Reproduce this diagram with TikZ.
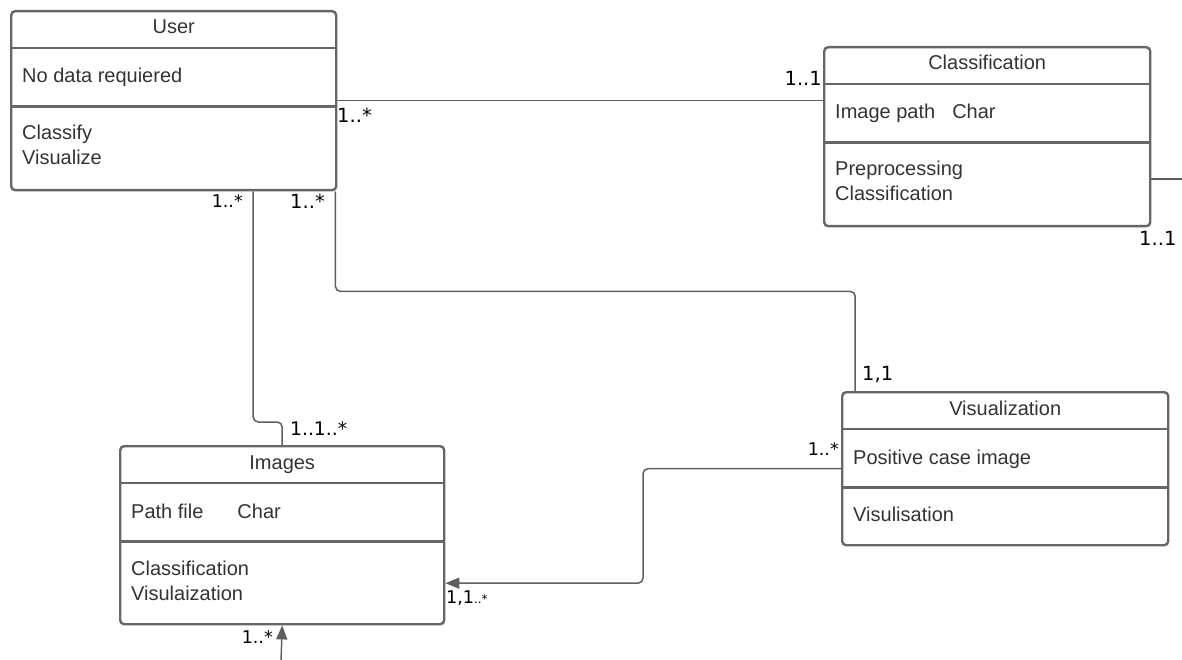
\documentclass[tikz,border=0pt]{standalone}
\usepackage{fontspec}
\setmainfont{Liberation Sans}
\newfontfamily\labelfont{DejaVu Sans}
\usetikzlibrary{arrows.meta,calc}
\definecolor{boxline}{HTML}{666666}
\definecolor{wire}{HTML}{5F5F5F}
\definecolor{boxtext}{HTML}{333333}

\tikzset{
  classbox/.style={draw=boxline, line width=2.4pt, rounded corners=4pt, inner sep=0pt, anchor=north west},
  sepline/.style={draw=boxline, line width=2.4pt},
  boxtxt/.style={text=boxtext, inner sep=0pt, font=\fontsize{20}{24}\selectfont},
  wireline/.style={draw=wire, line width=1.5pt, rounded corners=5pt},
  mult/.style={inner sep=0pt, font=\labelfont\fontsize{19.5}{23}\selectfont},
  multsmall/.style={inner sep=0pt, font=\labelfont\fontsize{17.5}{21}\selectfont},
  navarrow/.style={-{Triangle[length=14pt,width=11pt]}},
}

% class box: name, left, top, width, height, title, attribute, operation 1, operation 2
\newcommand\umlclass[9]{%
  \node[classbox, minimum width=#4pt, minimum height=#5pt] (#1) at (#2,#3) {};
  \draw[sepline] ([yshift=-38pt]#1.north west) -- ([yshift=-38pt]#1.north east);
  \draw[sepline] ([yshift=-96.5pt]#1.north west) -- ([yshift=-96.5pt]#1.north east);
  \node[boxtxt, anchor=base] (#1-name) at ([yshift=-24pt]#1.north) {#6};
  \node[boxtxt, anchor=base west] (#1-attr) at ([xshift=12pt,yshift=-73pt]#1.north west) {#7};
  \node[boxtxt, anchor=base west] (#1-op1) at ([xshift=12pt,yshift=-130pt]#1.north west) {#8};
  \node[boxtxt, anchor=base west] (#1-op2) at ([xshift=12pt,yshift=-155pt]#1.north west) {#9};
}

\begin{document}
\begin{tikzpicture}[x=1pt, y=-1pt]
\useasboundingbox (0,0) rectangle (1182,660);

% classes
\umlclass{user}{10}{10}{325}{179}{User}{No data requiered}{Classify}{Visualize}
\umlclass{class}{823}{46}{326}{179}{Classification}{Image path\hspace{17pt}Char}{Preprocessing}{Classification}
\umlclass{vis}{841}{391}{326}{153}{Visualization}{Positive case image}{Visulisation}{}
\umlclass{images}{119}{445}{324}{178}{Images}{Path file\hspace{34pt}Char}{Classification}{Visulaization}

% free ends of connectors leaving the sheet
\coordinate (cstart) at ([yshift=-42.5pt]class.east);
\coordinate (cstub) at (1183,0);
\coordinate (imgin) at (281,662);

% associations
\draw[wireline] (user.east) -- (user.east -| class.west);
\draw[wireline] (cstart) -- (cstart -| cstub);
\draw[wireline] ([xshift=79.5pt]user.south) |- ($(images.north)+(0,-23)$) -- (images.north);
\draw[wireline] ([xshift=-2pt]user.south east) -- ++(0,100) -| ([xshift=-150pt]vis.north);
\draw[wireline, navarrow] (vis.west) -- ++(-198,0) |- ([yshift=-48pt]images.east);
\draw[wireline, navarrow] (imgin) -- (images.south);

% multiplicities
\node[mult, anchor=base west] (m1) at (337,123) {1..*};
\node[mult, anchor=base east] (m2) at (822,86) {1..1};
\node[mult, anchor=base west] (m3) at (1139,245) {1..1};
\node[multsmall, anchor=base east] (m4) at (243,208) {1..*};
\node[mult, anchor=base west] (m5) at (290,209) {1..*};
\node[mult, font=\labelfont\fontsize{18.7}{22}\selectfont, anchor=base west] (m6) at (290,435) {1..1..*};
\node[mult, anchor=base west] (m7) at (862,380) {1,1};
\node[multsmall, anchor=base east] (m8) at (839,455) {1..*};
\node[multsmall, anchor=base west] (m9) at (446,603) {1,1{\fontsize{12}{14}\selectfont..*}};
\node[multsmall, anchor=base east] (m10) at (273,643) {1..*};
\end{tikzpicture}
\end{document}
